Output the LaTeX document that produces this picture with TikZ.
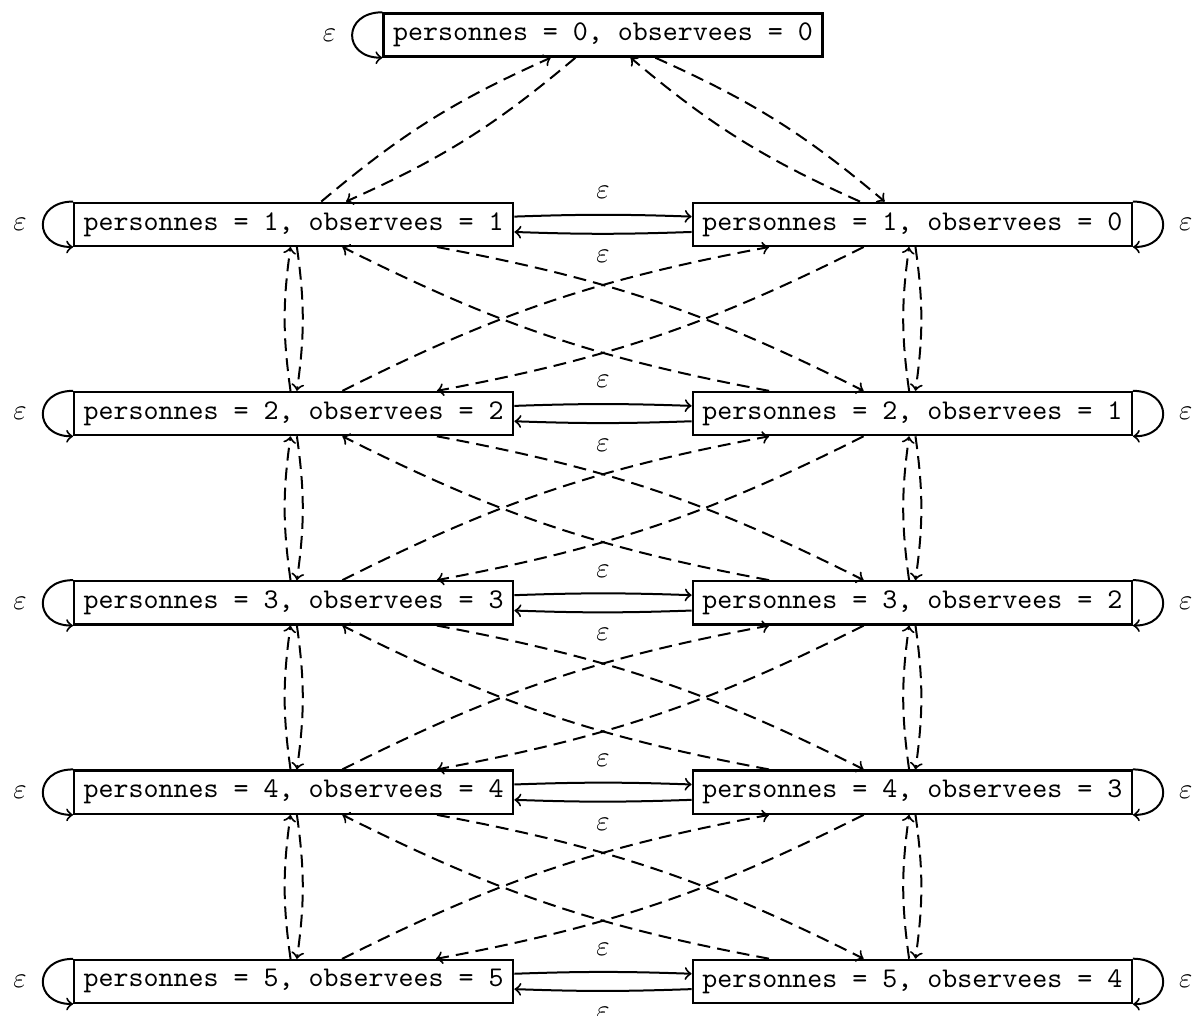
\documentclass[tikz,border=0pt]{standalone}
\usepackage{tikz}
\usetikzlibrary{positioning}
\tikzset{state/.style={draw,line width=0.8pt,font=\ttfamily,inner sep=0.3333em},
         lbl/.style={inner sep=0.3333em}
}
\tikzstyle{arrow} = [line width=0.7pt,->]
\tikzstyle{dasharrow} = [line width=0.7pt,->,dash pattern=on 4.5pt off 2.5pt]

\begin{document}
\begin{tikzpicture}[on grid]

\useasboundingbox (-211.05pt,12.25pt) rectangle (206.15pt,-343.35pt);
\node[state] (empty) {personnes = 0, observees = 0};
\node[state,below left=66.25pt and 108.25pt of empty] (all1) {personnes = 1, observees = 1};
\node[state,right=216.5pt of all1] (miss1) {personnes = 1, observees = 0};
\foreach \i [remember=\i as \j (initially 1)] in {2,...,5} {
  \node[state,below=66.25pt of all\j] (all\i) {personnes = \i, observees = \i};
  \pgfmathtruncatemacro{\m}{\i-1}
  \node[state,below=66.25pt of miss\j] (miss\i) {personnes = \i, observees = \m};
}
% epsilon loops and transitions
\draw[arrow] (empty.north west) to[out=180,in=180,distance=14pt] node[lbl,left=2pt] {$\varepsilon$} (empty.south west);
\foreach \i in {1,...,5} {
  \draw[arrow] (all\i.north west) to[out=180,in=180,distance=14pt] node[lbl,left=2pt] {$\varepsilon$} (all\i.south west);
  \draw[arrow] (miss\i.north east) to[out=0,in=0,distance=14pt] node[lbl,right=2pt] {$\varepsilon$} (miss\i.south east);
  \draw[arrow] (all\i) to[bend left=2] node[lbl,above=2pt] {$\varepsilon$} (miss\i);
  \draw[arrow] (miss\i) to[bend left=2] node[lbl,below=2pt] {$\varepsilon$} (all\i);
}
% dashed transitions
\draw[dasharrow] (empty) to[bend left=8] (all1);
\draw[dasharrow] (all1) to[bend left=8] (empty);
\draw[dasharrow] (empty) to[bend left=8] (miss1);
\draw[dasharrow] (miss1) to[bend left=8] (empty);
\foreach \i [evaluate=\i as \k using int(\i+1)] in {1,...,4} {
  \draw[dasharrow] (all\i) to[bend left=8] (all\k);
  \draw[dasharrow] (all\k) to[bend left=8] (all\i);
  \draw[dasharrow] (miss\i) to[bend left=8] (miss\k);
  \draw[dasharrow] (miss\k) to[bend left=8] (miss\i);
  \draw[dasharrow] (all\i) to[bend left=8] (miss\k);
  \draw[dasharrow] (miss\k) to[bend left=8] (all\i);
  \draw[dasharrow] (miss\i) to[bend left=8] (all\k);
  \draw[dasharrow] (all\k) to[bend left=8] (miss\i);
}

\end{tikzpicture}
\end{document}
